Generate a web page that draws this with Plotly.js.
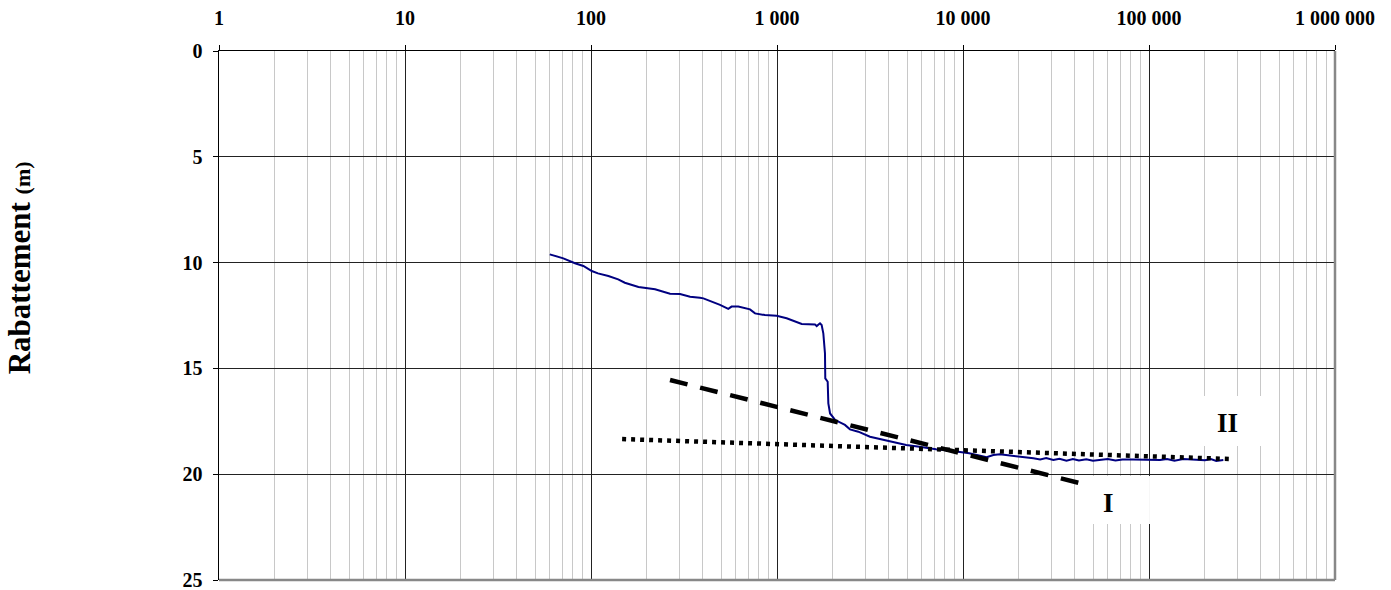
<!DOCTYPE html>
<html>
<head>
<meta charset="utf-8">
<script src="https://cdn.plot.ly/plotly-3.0.1.min.js"></script>
<style>html,body{margin:0;padding:0;background:#fff;}#chart{width:1391px;height:590px;}</style>
</head>
<body>
<div id="chart"></div>
<script>
// Measured drawdown (Rabattement, m) versus time
const time = [60, 71, 82, 91, 101, 109, 124, 140, 152, 180, 221, 266, 301, 327, 341, 385, 402, 494, 547, 570, 619, 716, 762, 861, 995, 1127, 1223, 1358, 1600, 1634, 1703, 1738, 1774, 1792, 1811, 1818, 1873, 1888, 1929, 2057, 2319, 2468, 2737, 3162, 3876, 4950, 5830, 7160, 8790, 10800, 13400, 14560, 15800, 17500, 20000, 23900, 26000, 28000, 30600, 33000, 36000, 39000, 42000, 46000, 50000, 54600, 60000, 66000, 72000, 82000, 95000, 114600, 125000, 137000, 152900, 175000, 200000, 215000, 230000, 251000];
const rabattement = [9.61, 9.80, 10.03, 10.16, 10.40, 10.51, 10.63, 10.79, 10.95, 11.15, 11.26, 11.47, 11.48, 11.58, 11.61, 11.66, 11.69, 12.00, 12.19, 12.08, 12.08, 12.21, 12.40, 12.48, 12.51, 12.63, 12.74, 12.90, 12.92, 13.00, 12.87, 12.95, 13.34, 13.81, 14.29, 15.47, 15.63, 16.65, 17.13, 17.44, 17.67, 17.88, 17.99, 18.23, 18.42, 18.62, 18.70, 18.82, 18.90, 19.01, 19.20, 19.09, 19.06, 19.10, 19.18, 19.25, 19.30, 19.24, 19.33, 19.27, 19.36, 19.28, 19.35, 19.29, 19.36, 19.33, 19.28, 19.35, 19.30, 19.30, 19.31, 19.33, 19.28, 19.36, 19.28, 19.31, 19.34, 19.28, 19.37, 19.33];

// Straight-line fits (semi-log)
const droiteI_t = [266, 44200];
const droiteI_s = [15.55, 20.46];
const droiteII_t = [147, 272000];
const droiteII_s = [18.34, 19.28];

// Axis ticks
const xTickVals = [1, 10, 100, 1000, 10000, 100000, 1000000];
const xTickText = ["1", "10", "100", "1 000", "10 000", "100 000", "1 000 000"];
const yTickVals = [0, 5, 10, 15, 20, 25];

const serif = "'Liberation Serif', 'Times New Roman', serif";

const traces = [
  {x: time, y: rabattement, type: 'scatter', mode: 'lines',
   line: {color: '#000080', width: 2}, hoverinfo: 'x+y'},
  {x: droiteI_t, y: droiteI_s, type: 'scatter', mode: 'lines',
   line: {color: '#000000', width: 4.5, dash: '18px,13px'}},
  {x: droiteII_t, y: droiteII_s, type: 'scatter', mode: 'lines',
   line: {color: '#000000', width: 4.5, dash: '4px,5px'}}
];

const layout = {
  width: 1391, height: 590,
  margin: {l: 219, r: 56, t: 51, b: 10, pad: 0},
  paper_bgcolor: '#ffffff', plot_bgcolor: '#ffffff',
  showlegend: false,
  font: {family: serif, color: '#000'},
  xaxis: {
    type: 'log', range: [0, 6], side: 'top',
    tickmode: 'array', tickvals: xTickVals, ticktext: xTickText,
    tickfont: {family: serif, size: 20, weight: 'bold', color: '#000'},
    ticks: 'outside', ticklen: 5, tickcolor: '#000', tickwidth: 1,
    ticklabelstandoff: 12, ticklabeloverflow: 'allow',
    showline: true, linecolor: '#000', linewidth: 1.5,
    showgrid: true, gridcolor: '#222', gridwidth: 1,
    minor: {dtick: 'D1', showgrid: true, gridcolor: '#c8c8c8', gridwidth: 1, ticks: ''},
    zeroline: false, fixedrange: true
  },
  yaxis: {
    range: [25, 0], autorange: false,
    tickmode: 'array', tickvals: yTickVals,
    tickfont: {family: serif, size: 20, weight: 'bold', color: '#000'},
    ticks: 'outside', ticklen: 5, tickcolor: '#000', tickwidth: 1,
    ticklabelstandoff: 6, ticklabeloverflow: 'allow',
    showline: true, linecolor: '#000', linewidth: 1.5,
    showgrid: true, gridcolor: '#222', gridwidth: 1,
    zeroline: false, fixedrange: true
  },
  shapes: [
    {type: 'line', xref: 'paper', yref: 'paper', x0: 1, x1: 1, y0: 0, y1: 1,
     line: {color: '#888888', width: 2.5}, layer: 'above'},
    {type: 'line', xref: 'paper', yref: 'paper', x0: 0, x1: 1, y0: 0, y1: 0,
     line: {color: '#888888', width: 2.5}, layer: 'above'},
    {type: 'rect', xref: 'paper', yref: 'paper', x0: 0.7769, x1: 0.8342, y0: 0.1059, y1: 0.1966,
     fillcolor: '#ffffff', line: {width: 0}, layer: 'above'},
    {type: 'rect', xref: 'paper', yref: 'paper', x0: 0.8790, x1: 0.9400, y0: 0.2533, y1: 0.3478,
     fillcolor: '#ffffff', line: {width: 0}, layer: 'above'}
  ],
  annotations: [
    {text: 'I', xref: 'paper', yref: 'paper', x: 0.7966, y: 0.1456, showarrow: false,
     xanchor: 'center', yanchor: 'middle', font: {family: serif, size: 27, weight: 'bold', color: '#000'}},
    {text: 'II', xref: 'paper', yref: 'paper', x: 0.9041, y: 0.2968, showarrow: false,
     xanchor: 'center', yanchor: 'middle', font: {family: serif, size: 27, weight: 'bold', color: '#000'}},
    {text: "<b>Rabattement <span style='font-size:22px'>(m)</span></b>", xref: 'paper', yref: 'paper',
     x: -0.178, y: 0.5898, showarrow: false, textangle: -90,
     xanchor: 'center', yanchor: 'middle', font: {family: serif, size: 31, color: '#000'}}
  ]
};

Plotly.newPlot('chart', traces, layout, {displayModeBar: false, staticPlot: true});
</script>
</body>
</html>
